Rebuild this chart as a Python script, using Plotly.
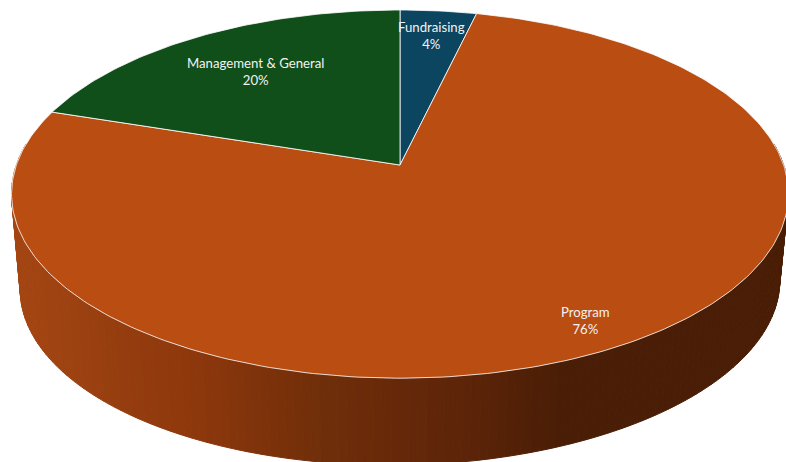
import numpy as np
import plotly.graph_objects as go

categories = ["Fundraising", "Program", "Management & General"]
values = [3.7, 76.3, 20.0]
slice_colors = ["#0C4560", "#B94D12", "#104F1A"]
label_xy = [(431, 35), (585, 320), (255, 71)]

# side-wall shading, read left to right across the picture
shade_x = [0, 60, 130, 200, 262, 330, 400, 470, 524, 560, 786]
shade_rgb = [(165, 71, 20), (158, 66, 17), (148, 60, 14), (140, 55, 12), (125, 50, 10),
             (110, 46, 10), (102, 40, 9), (92, 36, 8), (80, 32, 6), (74, 30, 6), (74, 30, 6)]

K = 0.158
TOP = dict(cx=400, cy=165, a=383.6, b=179.5, tilt=0.0)
BASE = dict(cx=400, cy=256.5, a=375.0, b=175.6, tilt=-0.012)


def project(theta, p, r=1.0):
    u, v = r * np.sin(theta), r * np.cos(theta)
    w = 1 + K * v
    x = p["cx"] + p["a"] * u / w
    return x, p["cy"] - p["b"] * v / w + p["tilt"] * (x - p["cx"])


fig = go.Figure()
edges = np.cumsum([0] + values) / sum(values) * 2 * np.pi

# side wall of the visible front arc
ts = np.linspace(np.pi / 2 - 0.12, 3 * np.pi / 2 + 0.12, 171)
for t0, t1 in zip(ts[:-1], ts[1:]):
    arc = np.array([t0, t1])
    xt, yt = project(arc, TOP)
    xb, yb = project(arc[::-1], BASE)
    xm = xt.mean()
    c = [np.interp(xm, shade_x, [s[i] for s in shade_rgb]) for i in range(3)]
    col = f"rgb({c[0]:.0f},{c[1]:.0f},{c[2]:.0f})"
    fig.add_trace(go.Scatter(x=np.r_[xt, xb, xt[0]], y=np.r_[yt, yb, yt[0]], mode="lines",
                             fill="toself", fillcolor=col, line=dict(color=col, width=1),
                             hoverinfo="skip", showlegend=False))

# top faces
for name, color, t0, t1 in zip(categories, slice_colors, edges[:-1], edges[1:]):
    arc = np.linspace(t0, t1, max(int((t1 - t0) * 60), 8))
    xa, ya = project(arc, TOP)
    fig.add_trace(go.Scatter(x=np.r_[TOP["cx"], xa, TOP["cx"]], y=np.r_[TOP["cy"], ya, TOP["cy"]],
                             mode="lines", fill="toself", fillcolor=color,
                             line=dict(color="rgba(255,255,255,0.8)", width=1),
                             name=name, showlegend=False, hoverinfo="name"))

for name, val, (lx, ly) in zip(categories, values, label_xy):
    fig.add_annotation(x=lx, y=ly, text=f"{name}<br>{val:.0f}%", showarrow=False,
                       font=dict(family="Lato", size=13.2, color="#F2F2F2"), align="center")

fig.update_layout(width=786, height=462, margin=dict(l=0, r=0, t=0, b=0),
                  paper_bgcolor="white", plot_bgcolor="white",
                  xaxis=dict(range=[0, 786], visible=False, fixedrange=True),
                  yaxis=dict(range=[462, 0], visible=False, fixedrange=True))
fig.write_html("out.html", config={"displayModeBar": False},
               default_width="786px", default_height="462px",
               post_script="document.body.style.margin='0';document.body.style.overflow='hidden';")
